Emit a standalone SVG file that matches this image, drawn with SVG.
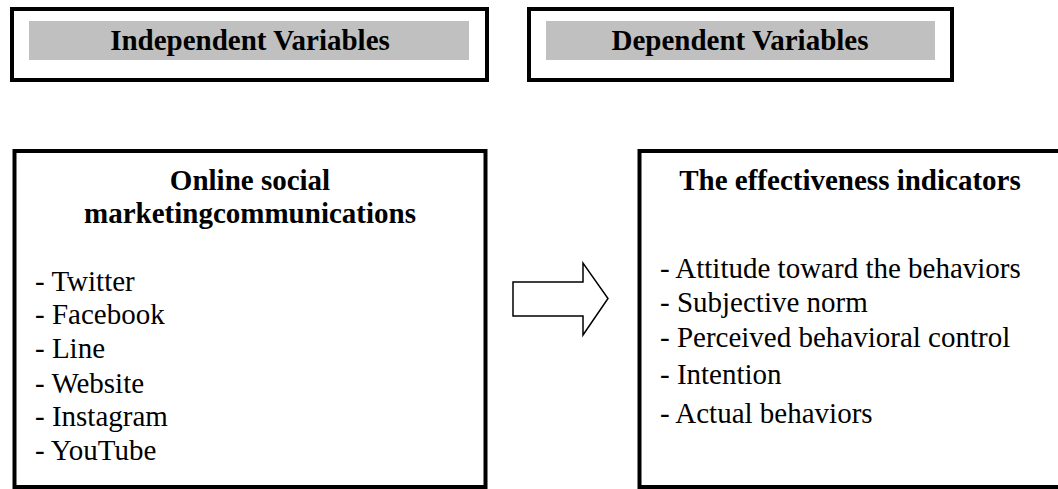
<svg xmlns="http://www.w3.org/2000/svg" width="1058" height="489" viewBox="0 0 1058 489">
<style>
.frame{fill:#fff;stroke:#000;stroke-width:4}
.band{fill:#c0c0c0}
.h{font-family:"Liberation Serif","Times New Roman",serif;font-weight:bold;font-size:29px;fill:#000}
.t{font-family:"Liberation Serif","Times New Roman",serif;font-size:29px;fill:#000}
.arrow{fill:#fff;stroke:#000;stroke-width:1.5}
</style>
<rect width="1058" height="489" fill="#fff"/>
<g id="iv-label">
<rect class="frame" x="12" y="9" width="475" height="71"/>
<rect class="band" x="29" y="21" width="440" height="39"/>
<text class="h" x="250" y="50" text-anchor="middle">Independent Variables</text>
</g>
<g id="dv-label">
<rect class="frame" x="529" y="9" width="423" height="71"/>
<rect class="band" x="546" y="21" width="389" height="39"/>
<text class="h" x="740" y="50" text-anchor="middle">Dependent Variables</text>
</g>
<g id="iv-box">
<rect class="frame" x="14.5" y="151" width="471" height="336"/>
<text class="h" x="250" y="190" text-anchor="middle">Online social</text>
<text class="h" x="250" y="223" text-anchor="middle">marketingcommunications</text>
<text class="t" x="35" y="291">- Twitter</text>
<text class="t" x="35" y="324">- Facebook</text>
<text class="t" x="35" y="358">- Line</text>
<text class="t" x="35" y="393">- Website</text>
<text class="t" x="35" y="426">- Instagram</text>
<text class="t" x="35" y="460">- YouTube</text>
</g>
<g id="dv-box">
<rect class="frame" x="639.5" y="151" width="430" height="336"/>
<text class="h" x="850" y="190" text-anchor="middle">The effectiveness indicators</text>
<text class="t" x="660" y="278">- Attitude toward the behaviors</text>
<text class="t" x="660" y="312">- Subjective norm</text>
<text class="t" x="660" y="347">- Perceived behavioral control</text>
<text class="t" x="660" y="384">- Intention</text>
<text class="t" x="660" y="423">- Actual behaviors</text>
</g>
<g id="connectors">
<polygon class="arrow" points="513,282 583,282 583,263 608,298.5 583,335 583,316 513,316"/>
</g>
</svg>
